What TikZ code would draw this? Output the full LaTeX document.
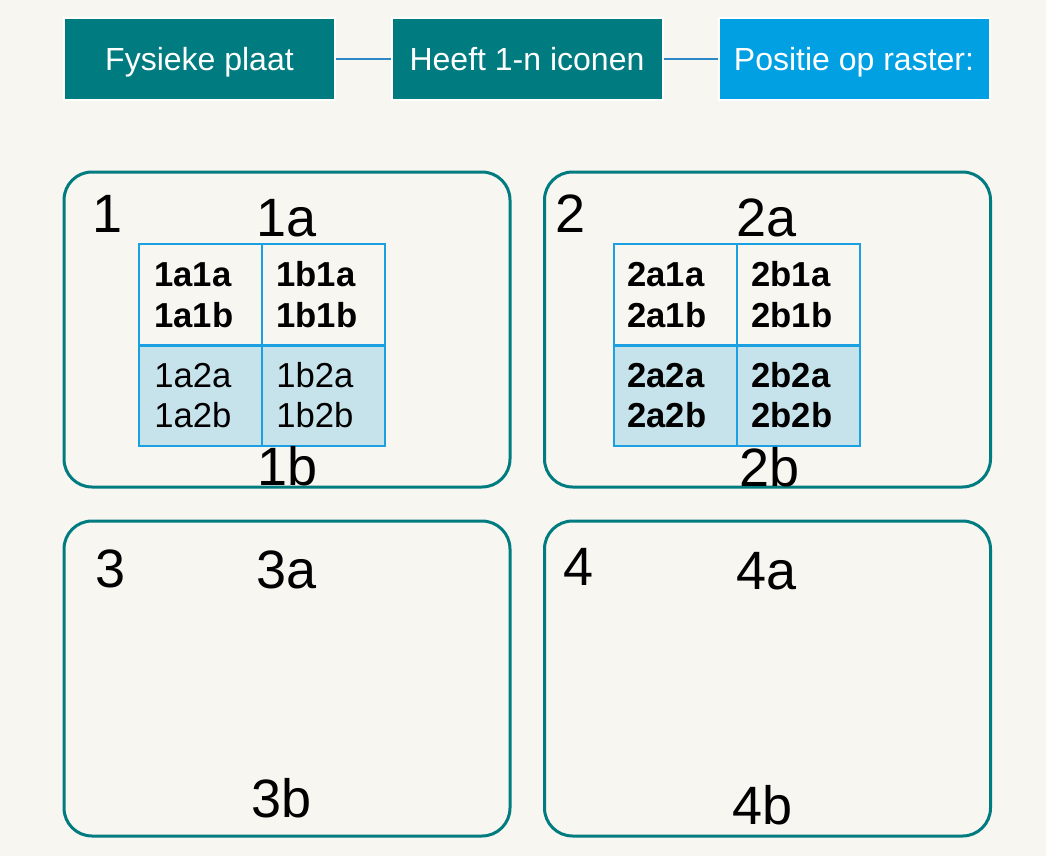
\documentclass[tikz,border=0pt]{standalone}
\usepackage{fontspec}
\setmainfont{Liberation Sans}
\definecolor{bg}{HTML}{F8F6F0}
\definecolor{tealbox}{HTML}{007C80}
\definecolor{bluebox}{HTML}{00A0E3}
\definecolor{gridline}{HTML}{1BA1E2}
\definecolor{lightcell}{HTML}{C6E3EC}
\definecolor{connline}{HTML}{2C89C9}
\tikzset{
  topbox/.style={draw=white, line width=1.5pt, text=white, minimum width=203.25pt, minimum height=61.5pt, inner sep=0pt, text height=17.2pt, text depth=0pt, font=\fontsize{24}{28}\selectfont},
  conn/.style={draw=connline, line width=1.2pt},
  panel/.style={draw=tealbox, line width=2.25pt, rounded corners=21pt, minimum width=334.5pt, minimum height=236.25pt, inner sep=0pt},
  cell/.style={draw=gridline, line width=1.5pt, minimum width=92.25pt, minimum height=75.75pt, inner sep=0pt},
  big/.style={anchor=base west, inner sep=0pt, font=\fontsize{40.5}{44}\selectfont},
  ctext/.style={anchor=base west, inner sep=0pt, font=\fontsize{26}{30}\selectfont},
  btext/.style={ctext, font=\fontsize{26}{30}\selectfont\bfseries},
}
\begin{document}
\begin{tikzpicture}[x=0.75pt,y=-0.75pt]
\fill[bg] (0,0) rectangle (1046,856);
\useasboundingbox (0,0) rectangle (1046,856);
% top boxes
\node[topbox, fill=tealbox] (b1) at (199.5,59) {Fysieke plaat};
\node[topbox, fill=tealbox] (b2) at (527,59) {Heeft 1-n iconen};
\node[topbox, fill=bluebox] (b3) at (854,59) {Positie op raster:};
\draw[conn] (b1.east) -- (b2.west);
\draw[conn] (b2.east) -- (b3.west);
% panels
\node[panel] (p1) at (287,329.5) {};
\node[panel] (p2) at (767.5,329.5) {};
\node[panel] (p3) at (287,678.5) {};
\node[panel] (p4) at (767.5,678.5) {};
% grid 1
\node[cell, fill=bg] (g1a) at (200.5,294) {};
\node[cell, fill=bg] (g1b) at (323.5,294) {};
\node[cell, fill=lightcell] (g1c) at (200.5,395) {};
\node[cell, fill=lightcell] (g1d) at (323.5,395) {};
\draw[gridline, line width=2.25pt] (g1a.south west) -- (g1b.south east);
% grid 2
\node[cell, fill=bg] (g2a) at (675.5,294) {};
\node[cell, fill=bg] (g2b) at (798.5,294) {};
\node[cell, fill=lightcell] (g2c) at (675.5,395) {};
\node[cell, fill=lightcell] (g2d) at (798.5,395) {};
\draw[gridline, line width=2.25pt] (g2a.south west) -- (g2b.south east);
% cell texts grid 1
\node[btext] (t1) at (154,286) {1a1a};
\node[btext] (t2) at (154,327) {1a1b};
\node[btext] (t3) at (276,286) {1b1a};
\node[btext] (t4) at (276,327) {1b1b};
\node[ctext] (t5) at (154,387) {1a2a};
\node[ctext] (t6) at (154,427) {1a2b};
\node[ctext] (t7) at (276,387) {1b2a};
\node[ctext] (t8) at (276,427) {1b2b};
% cell texts grid 2
\node[btext] (u1) at (627,286) {2a1a};
\node[btext] (u2) at (627,327) {2a1b};
\node[btext] (u3) at (751,286) {2b1a};
\node[btext] (u4) at (751,327) {2b1b};
\node[btext] (u5) at (627,387) {2a2a};
\node[btext] (u6) at (627,427) {2a2b};
\node[btext] (u7) at (751,387) {2b2a};
\node[btext] (u8) at (751,427) {2b2b};
% big labels
\node[big] (l1) at (92,232) {1};
\node[big] (l1a) at (256,236) {1a};
\node[big] (l1b) at (257,485) {1b};
\node[big] (l2) at (555,232) {2};
\node[big] (l2a) at (736,236) {2a};
\node[big] (l2b) at (739,486) {2b};
\node[big] (l3) at (95,587) {3};
\node[big] (l3a) at (256,588) {3a};
\node[big] (l3b) at (251,817) {3b};
\node[big] (l4) at (563,585) {4};
\node[big] (l4a) at (736,589) {4a};
\node[big] (l4b) at (732,824) {4b};
\end{tikzpicture}
\end{document}
